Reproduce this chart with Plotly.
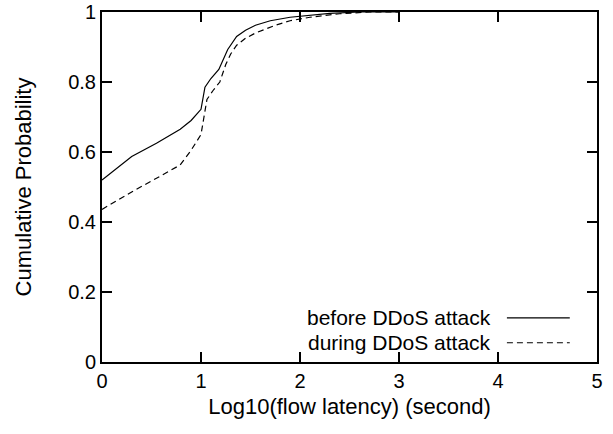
import plotly.graph_objects as go

before_x = [0, 0.3, 0.55, 0.79, 0.9, 1.0, 1.04, 1.1, 1.18, 1.22, 1.27, 1.36, 1.45, 1.55, 1.7, 1.9, 2.1, 2.3, 2.6, 3.0]
before_y = [0.52, 0.587, 0.625, 0.665, 0.69, 0.722, 0.785, 0.81, 0.836, 0.86, 0.893, 0.93, 0.948, 0.962, 0.975, 0.985, 0.991, 0.996, 1.0, 1.0]

during_x = [0, 0.3, 0.55, 0.79, 0.9, 1.0, 1.03, 1.06, 1.12, 1.19, 1.25, 1.3, 1.36, 1.45, 1.55, 1.76, 1.9, 2.1, 2.4, 2.7, 3.0]
during_y = [0.436, 0.486, 0.525, 0.563, 0.605, 0.65, 0.7, 0.75, 0.775, 0.80, 0.85, 0.88, 0.905, 0.925, 0.94, 0.963, 0.975, 0.985, 0.995, 1.0, 1.0]

series_names = ["before DDoS attack", "during DDoS attack"]
x_ticks = [0, 1, 2, 3, 4, 5]
y_ticks = [0, 0.2, 0.4, 0.6, 0.8, 1]
y_tick_labels = ["0", "0.2", "0.4", "0.6", "0.8", "1"]

FONT = "Liberation Sans, Arial, sans-serif"

fig = go.Figure()
fig.add_trace(go.Scatter(x=before_x, y=before_y, mode="lines", name=series_names[0],
                         line=dict(color="black", width=1.2), cliponaxis=True))
fig.add_trace(go.Scatter(x=during_x, y=during_y, mode="lines", name=series_names[1],
                         line=dict(color="black", width=1.2, dash="6px,4px"), cliponaxis=True))

axis_common = dict(showgrid=False, zeroline=False, showline=True, linecolor="black", linewidth=2,
                   mirror="ticks", ticks="inside", ticklen=10, tickwidth=1.5, tickcolor="black",
                   automargin=False,
                   tickfont=dict(family=FONT, size=20, color="black"))

fig.update_xaxes(range=[0, 5], tickvals=x_ticks, ticktext=[str(v) for v in x_ticks],
                 title=dict(text="Log10(flow latency) (second)", font=dict(family=FONT, size=22, color="black"),
                            standoff=8), **axis_common)
fig.update_yaxes(range=[0, 1], tickvals=y_ticks, ticktext=y_tick_labels,
                 title=dict(text="Cumulative Probability", font=dict(family=FONT, size=22, color="black"),
                            standoff=30), **axis_common)

# legend drawn gnuplot-style: text to the left of the line sample
legend_rows = [0.126, 0.055]
dashes = ["solid", "6px,4px"]
for name, yy, d in zip(series_names, legend_rows, dashes):
    fig.add_annotation(x=0.788, y=yy, xref="paper", yref="paper", text=name, showarrow=False,
                       xanchor="right", yanchor="middle", borderpad=0,
                       font=dict(family=FONT, size=21, color="black"))
    fig.add_shape(type="line", xref="paper", yref="paper", x0=0.818, x1=0.945, y0=yy, y1=yy,
                  line=dict(color="black", width=1.2, dash=d))

fig.update_layout(width=613, height=434, margin=dict(l=102, r=16, t=12, b=72),
                  paper_bgcolor="white", plot_bgcolor="white", showlegend=False,
                  font=dict(family=FONT, color="black"))

fig.write_html("out.html")
